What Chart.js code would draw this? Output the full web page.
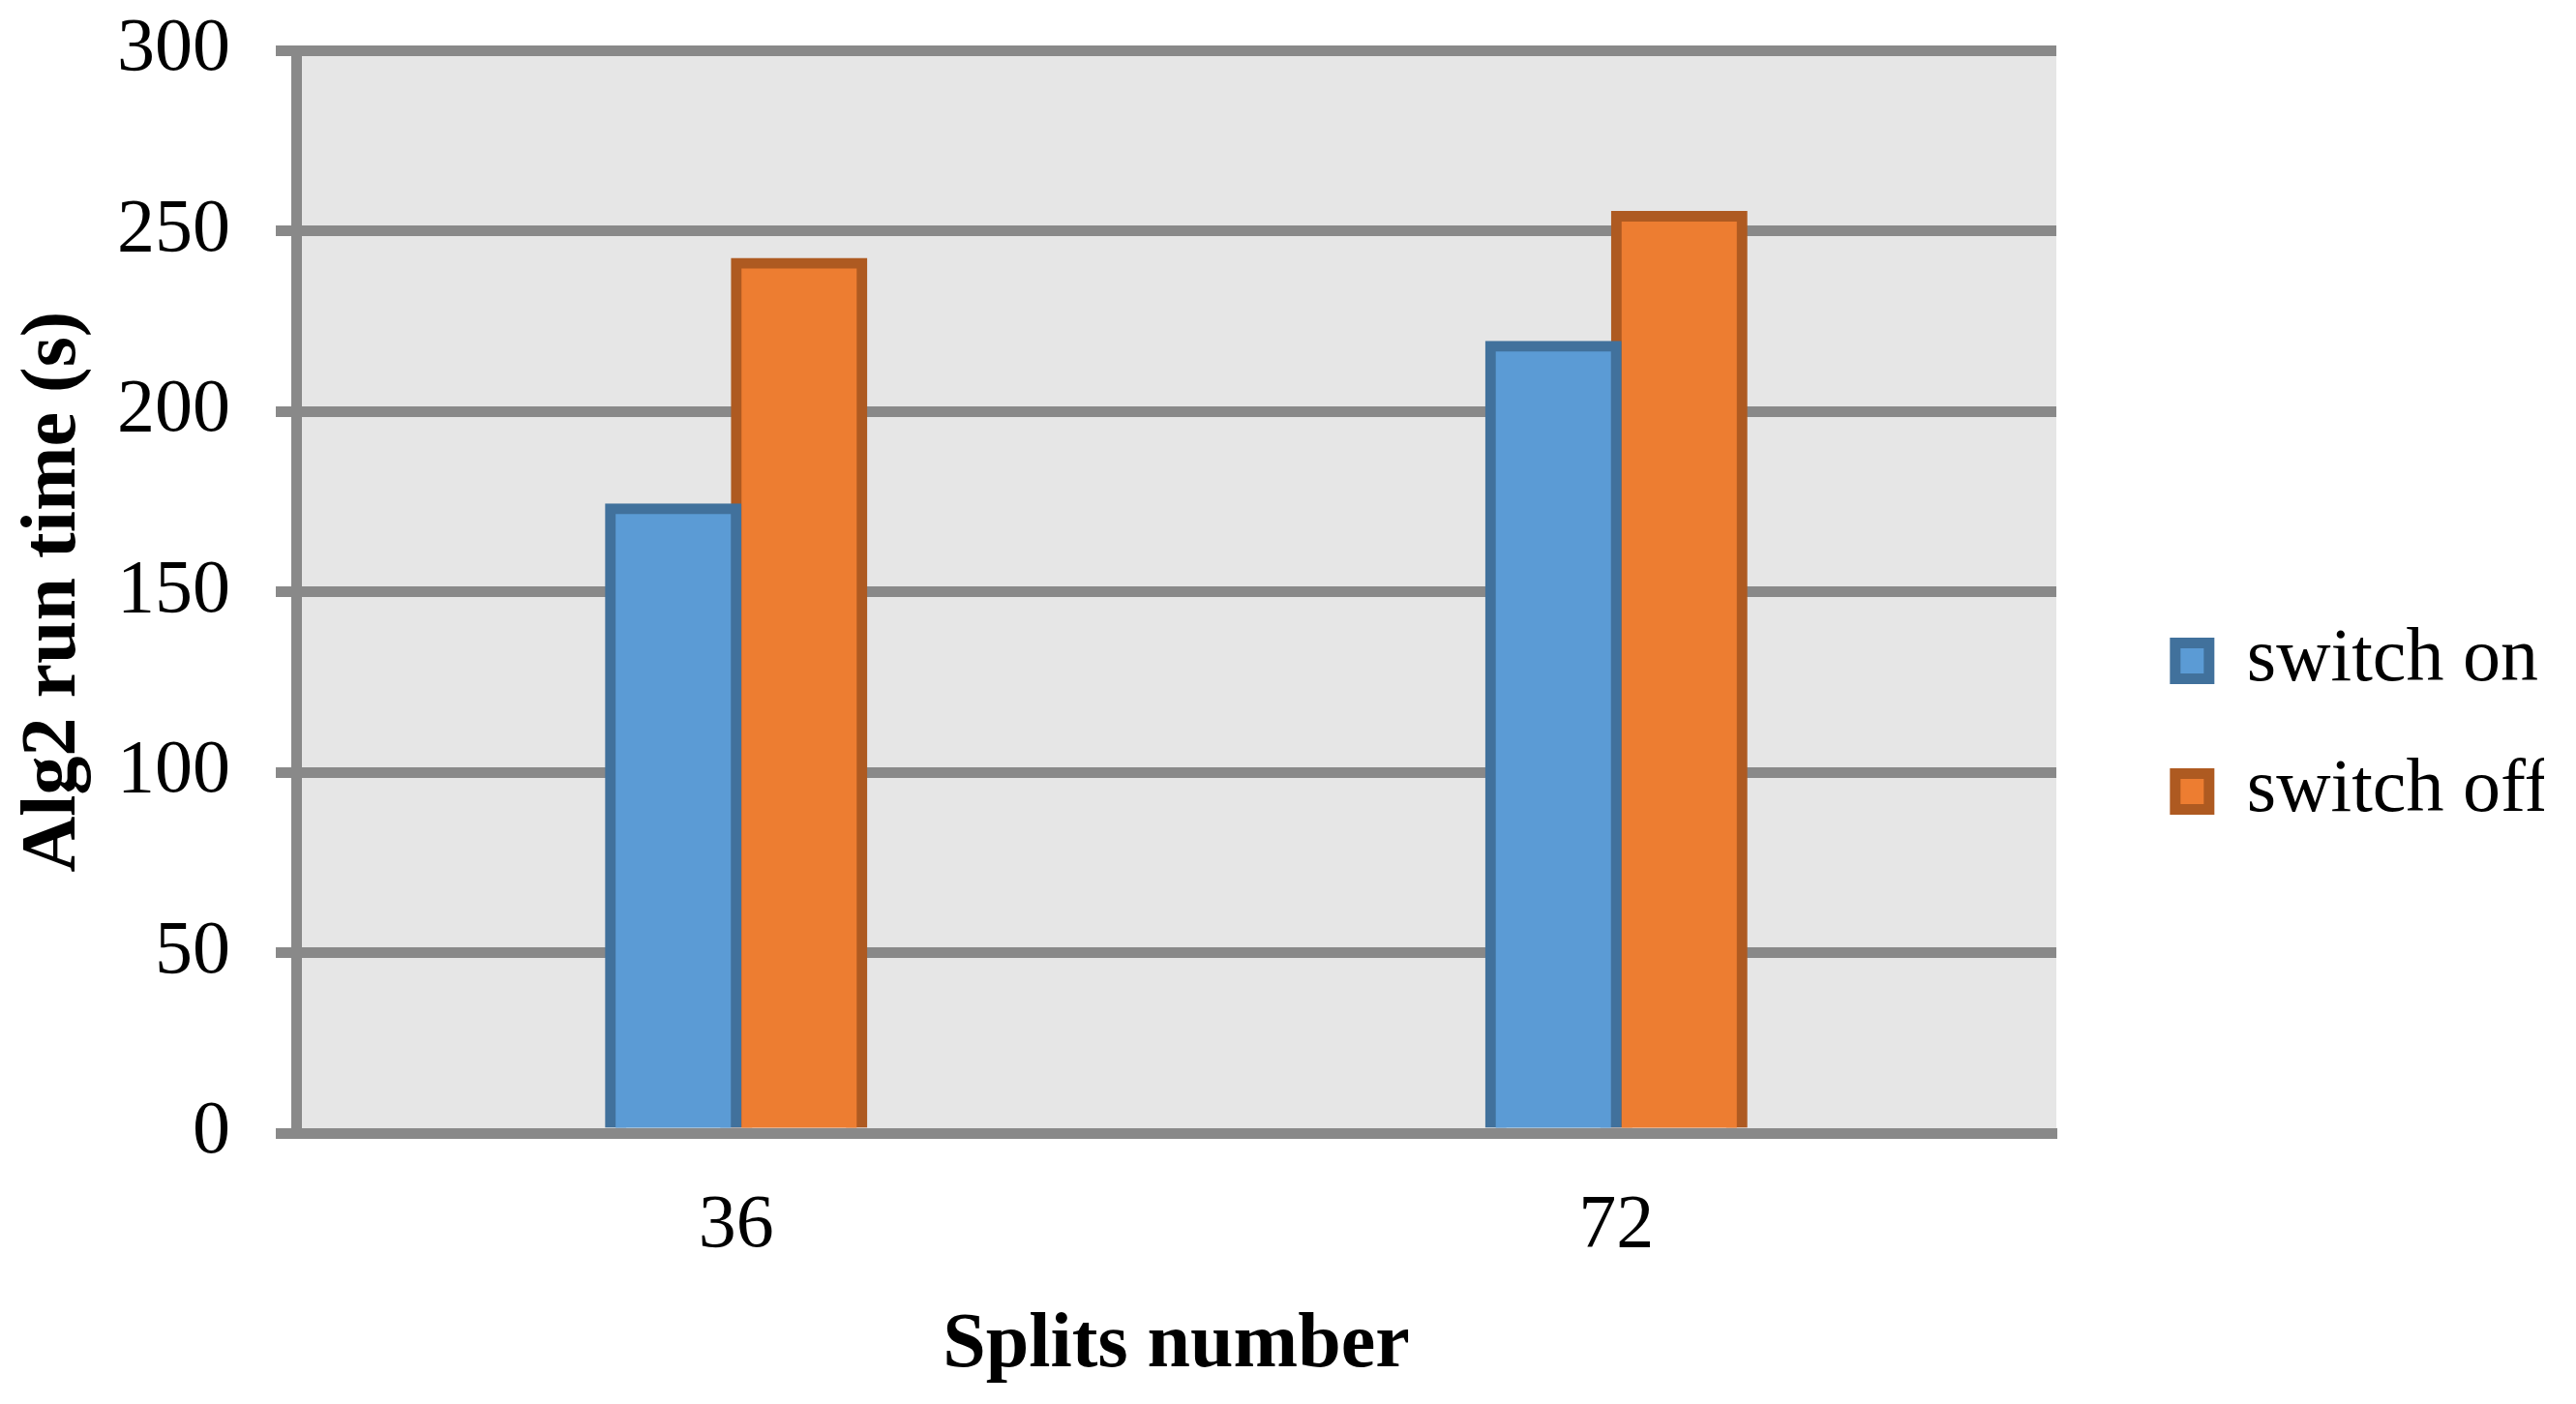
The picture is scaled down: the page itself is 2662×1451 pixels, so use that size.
<!DOCTYPE html>
<html lang="en">
<head>
  <meta charset="UTF-8">
  <title>Alg2 run time - splits number</title>
  <script src="https://cdn.jsdelivr.net/npm/chart.js@4.4.0/dist/chart.umd.min.js"></script>
  <style>
    html, body { margin: 0; padding: 0; background: #ffffff; }
    #chartBox { width: 2662px; height: 1451px; }
  </style>
</head>
<body>
  <div id="chartBox"><canvas id="runTimeChart" width="2662" height="1451"></canvas></div>

  <script>
    // values
    const splits = ['36', '72'];
    const switchOn = [173, 218];
    const switchOff = [241, 254];
    const yMin = 0;
    const yMax = 300;
    const yStep = 50;

    const serif = "'Liberation Serif', 'Times New Roman', serif";
    const gridGrey = '#898989';
    const plotRight = 2125;   // right edge of the grey plot area
    const rightPad = 33;

    // grey plot area behind the grid
    const plotBackground = {
      id: 'plotBackground',
      beforeDraw(chart) {
        const { ctx, chartArea } = chart;
        ctx.save();
        ctx.fillStyle = '#e6e6e6';
        ctx.fillRect(chartArea.left, chartArea.top,
          chartArea.right - chartArea.left, chartArea.bottom - chartArea.top);
        ctx.restore();
      }
    };

    const ctx = document.getElementById('runTimeChart').getContext('2d');

    new Chart(ctx, {
      type: 'bar',
      data: {
        labels: splits,
        datasets: [{
          label: 'switch on',
          data: switchOn,
          backgroundColor: '#5b9bd5',
          borderColor: '#41719c',
          borderWidth: 11,
          inflateAmount: 5.5,
          categoryPercentage: 0.286,
          barPercentage: 1
        }, {
          label: 'switch off',
          data: switchOff,
          backgroundColor: '#ed7d31',
          borderColor: '#ae5a21',
          borderWidth: 11,
          inflateAmount: 5.5,
          categoryPercentage: 0.286,
          barPercentage: 1
        }]
      },
      options: {
        responsive: false,
        devicePixelRatio: 1,
        animation: false,
        layout: {
          padding: { top: 52, right: rightPad, bottom: 2, left: 0 }
        },
        plugins: {
          tooltip: { enabled: false },
          legend: {
            position: 'right',
            align: 'center',
            labels: {
              color: '#000',
              font: { family: serif, size: 78 },
              boxWidth: 35,
              boxHeight: 37,
              padding: 57
            }
          }
        },
        scales: {
          x: {
            z: 1,
            ticks: {
              color: '#000',
              font: { family: serif, size: 78 },
              padding: 50
            },
            grid: { display: false, drawTicks: false },
            border: { display: true, color: gridGrey, width: 11 },
            title: {
              display: true,
              text: 'Splits number',
              color: '#000',
              font: { family: serif, size: 80, weight: 'bold' },
              padding: { top: 0, bottom: 10 }
            },
            afterFit(scale) { scale.height = 278; }
          },
          y: {
            min: yMin,
            max: yMax,
            ticks: {
              stepSize: yStep,
              color: '#000',
              font: { family: serif, size: 78 },
              padding: 47
            },
            grid: { color: gridGrey, lineWidth: 11, tickLength: 21 },
            border: { display: true, color: gridGrey, width: 11 },
            title: {
              display: true,
              text: 'Alg2 run time (s)',
              color: '#000',
              font: { family: serif, size: 80, weight: 'bold' },
              padding: { top: 8, bottom: 0 }
            },
            afterFit(scale) {
              scale.width = 306;
              scale.paddingTop = 0;
              scale.paddingBottom = 0;
            }
          },
          // empty spacer between the plot and the legend
          gap: {
            type: 'linear',
            position: 'right',
            grid: { display: false },
            border: { display: false },
            ticks: { display: false },
            afterFit(scale) {
              const legendWidth = scale.chart.legend ? scale.chart.legend.width : 0;
              scale.width = Math.max(0, scale.chart.width - rightPad - legendWidth - plotRight);
              scale.paddingTop = 0;
              scale.paddingBottom = 0;
            }
          }
        }
      },
      plugins: [plotBackground]
    });
  </script>
</body>
</html>
